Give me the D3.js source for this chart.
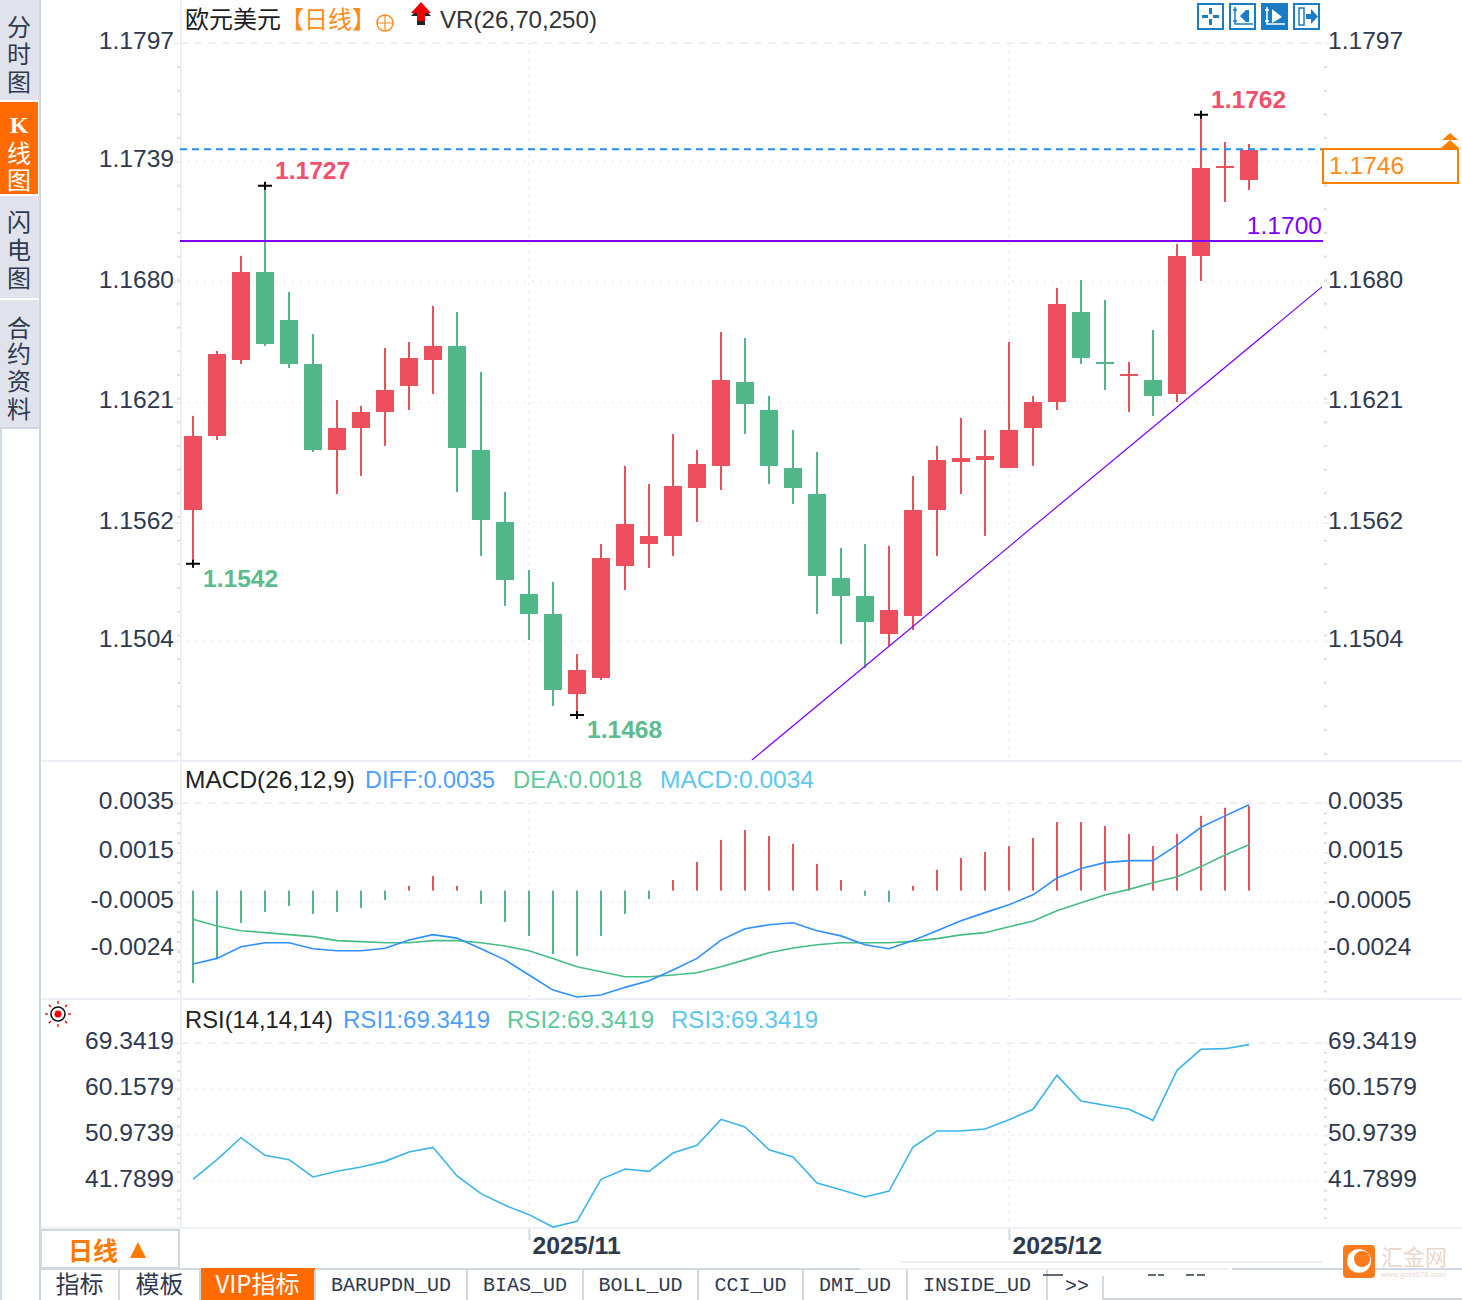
<!DOCTYPE html>
<html>
<head>
<meta charset="utf-8">
<script src="https://cdn.jsdelivr.net/npm/d3@7"></script>
<style>
  html, body { margin: 0; padding: 0; background: #fff; }
  text { font-family: "Liberation Sans", Arial, "Noto Sans CJK SC", sans-serif; }
  .cjk { font-family: "Noto Sans CJK SC", sans-serif; }
  .mono { font-family: "Liberation Mono", "DejaVu Sans Mono", monospace; }
  .domain { display: none; }
</style>
</head>
<body>
<svg id="chart" width="1462" height="1300" viewBox="0 0 1462 1300"></svg>
<script>
// Candle data, one entry per trading day
const candleOpen = [1.15682,1.16045,1.16417,1.16848,1.16613,1.16397,1.15976,1.16084,1.16162,1.16290,1.16417,1.16486,1.15976,1.15623,1.15270,1.15172,1.14780,1.14859,1.15408,1.15515,1.15555,1.15790,1.15898,1.16309,1.16172,1.15888,1.15760,1.15349,1.15261,1.15074,1.15163,1.15682,1.15917,1.15927,1.15888,1.16084,1.16211,1.16652,1.16407,1.16339,1.16319,1.16250,1.16927,1.17358,1.17299];
const candleClose = [1.16045,1.16446,1.16848,1.16495,1.16397,1.15976,1.16084,1.16162,1.16270,1.16427,1.16486,1.15986,1.15633,1.15339,1.15172,1.14800,1.14898,1.15447,1.15613,1.15555,1.15800,1.15907,1.16319,1.16201,1.15898,1.15790,1.15359,1.15261,1.15133,1.15192,1.15682,1.15927,1.15937,1.15947,1.16074,1.16211,1.16691,1.16427,1.16397,1.16348,1.16241,1.16927,1.17358,1.17368,1.17446];
const candleHigh = [1.16143,1.16461,1.16927,1.17270,1.16750,1.16544,1.16221,1.16192,1.16476,1.16505,1.16682,1.16652,1.16358,1.15770,1.15388,1.15329,1.14976,1.15515,1.15898,1.15809,1.16054,1.15976,1.16554,1.16525,1.16241,1.16074,1.15966,1.15496,1.15515,1.15506,1.15849,1.15996,1.16133,1.16074,1.16505,1.16241,1.16770,1.16809,1.16711,1.16407,1.16564,1.16985,1.17618,1.17485,1.17475];
const candleLow = [1.15418,1.16025,1.16397,1.16486,1.16378,1.15966,1.15760,1.15849,1.15996,1.16172,1.16250,1.15770,1.15457,1.15212,1.15045,1.14722,1.14678,1.14849,1.15290,1.15398,1.15457,1.15623,1.15780,1.16054,1.15809,1.15711,1.15172,1.15025,1.14908,1.15016,1.15094,1.15457,1.15760,1.15555,1.15888,1.15898,1.16172,1.16397,1.16270,1.16162,1.16143,1.16211,1.16804,1.17191,1.17250];

// MACD pane
const macdHist = [-0.00373,-0.00275,-0.00131,-0.00086,-0.00062,-0.00094,-0.00086,-0.00070,-0.00038,0.00019,0.00059,0.00019,-0.00054,-0.00127,-0.00183,-0.00256,-0.00264,-0.00183,-0.00094,-0.00034,0.00043,0.00116,0.00205,0.00245,0.00221,0.00189,0.00108,0.00043,-0.00021,-0.00046,0.00019,0.00084,0.00132,0.00156,0.00180,0.00213,0.00277,0.00277,0.00261,0.00229,0.00180,0.00229,0.00302,0.00335,0.00342];
const macdDiff = [-0.00301,-0.00278,-0.00231,-0.00215,-0.00215,-0.00239,-0.00247,-0.00247,-0.00237,-0.00204,-0.00182,-0.00196,-0.00239,-0.00284,-0.00345,-0.00406,-0.00434,-0.00426,-0.00395,-0.00368,-0.00325,-0.00278,-0.00204,-0.00158,-0.00142,-0.00134,-0.00166,-0.00187,-0.00223,-0.00239,-0.00206,-0.00166,-0.00126,-0.00093,-0.00061,-0.00021,0.00047,0.00085,0.00109,0.00117,0.00117,0.00180,0.00252,0.00298,0.00343];
const macdDea = [-0.00120,-0.00147,-0.00166,-0.00174,-0.00182,-0.00190,-0.00206,-0.00210,-0.00215,-0.00215,-0.00206,-0.00206,-0.00215,-0.00228,-0.00247,-0.00278,-0.00312,-0.00332,-0.00352,-0.00352,-0.00345,-0.00336,-0.00312,-0.00284,-0.00255,-0.00236,-0.00223,-0.00215,-0.00215,-0.00215,-0.00209,-0.00198,-0.00183,-0.00174,-0.00150,-0.00127,-0.00085,-0.00053,-0.00022,0.00001,0.00028,0.00052,0.00093,0.00140,0.00181];

// RSI pane
const rsiValues = [42.12,46.05,50.44,46.91,46.05,42.59,43.72,44.58,45.71,47.58,48.51,42.79,39.26,36.93,35.07,32.60,33.74,42.12,44.18,43.72,47.38,48.91,54.10,52.57,48.04,46.58,41.39,40.06,38.59,39.79,48.58,51.77,51.77,52.17,54.03,56.10,62.88,57.76,56.90,56.10,53.90,63.88,68.08,68.21,69.01];

// Tick labels and annotations
const priceTicks = [1.1797,1.1739,1.1680,1.1621,1.1562,1.1504];
const macdTicks = [0.0035,0.0015,-0.0005,-0.0024];
const rsiTicks = [69.3419,60.1579,50.9739,41.7899];
const monthIndex = [14,34];
const monthLabels = ["2025/11","2025/12"];
const extremeIndex = [3,42,0,16];
const extremeKind = ["high","high","low","low"];
const lastPrice = 1.1745;
const supportLevel = 1.1700;
const trendIndex = [23.29,47.04];
const trendPrice = [1.14457,1.16775];

const sideTabs = ["分时图","K线图","闪电图","合约资料"];
const bottomTabs = ["指标","模板","VIP指标","BARUPDN_UD","BIAS_UD","BOLL_UD","CCI_UD","DMI_UD","INSIDE_UD"];

const red = "#ee4f5f", green = "#52b788", gridColor = "#edf1f5", axisText = "#2f3a4f";
const blue = "#4d9fff", blueLine = "#2e8fff", mint = "#5ec99a", mintLine = "#45bd84", sky = "#5cc8f0", skyLine = "#3bb4ea";
const orange = "#ff6b00", orangeLight = "#ff8c1a", purple = "#8000ff";
const numSize = "24.6px";

const left = 180, right = 1323;
const svg = d3.select("#chart");

// Scales share one x, each pane has its own y
const x = d3.scaleLinear().domain([0, 44]).range([193, 1249]);
const yPrice = d3.scaleLinear().domain([1.1797, 1.1504]).range([43, 641]);
const yMacd = d3.scaleLinear().domain([0.0035, -0.0024]).range([803, 949]);
const yRsi = d3.scaleLinear().domain([69.3419, 41.7899]).range([1043, 1181]);
// Plain hyphen for negatives, the reference does not use the unicode minus
const fmt4 = v => d3.format(".4f")(v).replace("\u2212", "-");
const panes = [
    { y: yPrice, ticks: priceTicks, top: 43, bottom: 760, hideRight: [1.1739] },
    { y: yMacd, ticks: macdTicks, top: 803, bottom: 998, hideRight: [] },
    { y: yRsi, ticks: rsiTicks, top: 1043, bottom: 1227, hideRight: [] }
];

// Clip for the price pane so the trend line stops at its border
svg.append("clipPath").attr("id", "priceClip").append("rect")
    .attr("x", left).attr("y", 0).attr("width", right - left).attr("height", 760);

// Grid and axes
panes.forEach(p => {
    const grid = svg.append("g");
    p.ticks.forEach((t, i) => {
        grid.append("line")
            .attr("x1", left).attr("x2", right)
            .attr("y1", p.y(t)).attr("y2", p.y(t))
            .attr("stroke", gridColor).attr("stroke-width", 2)
            .attr("stroke-dasharray", i === 0 ? "8 6" : "2 6");
    });
    monthIndex.forEach(m => {
        grid.append("line")
            .attr("x1", x(m)).attr("x2", x(m))
            .attr("y1", p.top).attr("y2", p.bottom)
            .attr("stroke", gridColor).attr("stroke-width", 2)
            .attr("stroke-dasharray", "2 6");
    });

    const step = (p.ticks[0] - p.ticks[1]) / 5;
    const minor = d3.range(1, 60).map(k => p.ticks[0] - k * step)
        .filter(v => p.y(v) < p.bottom);

    [[d3.axisLeft, left], [d3.axisRight, right + 1]].forEach(([axisFn, pos]) => {
        const isLeft = axisFn === d3.axisLeft;
        svg.append("g").attr("transform", `translate(${pos},0)`)
            .call(axisFn(p.y).tickValues(minor).tickSize(3).tickFormat(""))
            .selectAll("line").attr("stroke", "#d8dfe6").attr("stroke-width", 2);
        // The current price box hides one label on the right side
        const shown = isLeft ? p.ticks : p.ticks.filter(t => !p.hideRight.includes(t));
        const g = svg.append("g").attr("transform", `translate(${pos},0)`)
            .call(axisFn(p.y).tickValues(shown).tickSize(6).tickFormat(fmt4));
        g.selectAll("line").attr("stroke", gridColor).attr("stroke-width", 2);
        g.selectAll("text")
            .attr("x", isLeft ? -6 : 4)
            .attr("dy", "0.22em")
            .attr("fill", axisText)
            .style("font-size", numSize);
    });
});

// Pane frames
svg.append("g").selectAll("line").data([761, 999, 1228]).join("line")
    .attr("x1", 40).attr("x2", 1462).attr("y1", d => d).attr("y2", d => d)
    .attr("stroke", gridColor).attr("stroke-width", 2);
svg.append("line").attr("x1", 181).attr("x2", 181).attr("y1", 0).attr("y2", 1228)
    .attr("stroke", gridColor).attr("stroke-width", 2);

// Candles
const candles = svg.append("g").selectAll("g").data(candleOpen).join("g");
candles.append("rect")
    .attr("x", (d, i) => x(i) - 1).attr("width", 2)
    .attr("y", (d, i) => yPrice(candleHigh[i]))
    .attr("height", (d, i) => yPrice(candleLow[i]) - yPrice(candleHigh[i]))
    .attr("fill", (d, i) => candleClose[i] >= d ? red : green);
candles.append("rect")
    .attr("x", (d, i) => x(i) - 9).attr("width", 18)
    .attr("y", (d, i) => yPrice(Math.max(d, candleClose[i])))
    .attr("height", (d, i) => Math.max(2, Math.abs(yPrice(d) - yPrice(candleClose[i]))))
    .attr("fill", (d, i) => candleClose[i] >= d ? red : green)
    .attr("shape-rendering", "crispEdges");

// Last price, support level and trend line
svg.append("line")
    .attr("x1", left).attr("x2", right)
    .attr("y1", yPrice(lastPrice)).attr("y2", yPrice(lastPrice))
    .attr("stroke", "#1e8fff").attr("stroke-width", 2).attr("stroke-dasharray", "7 5");
svg.append("line")
    .attr("x1", left).attr("x2", right)
    .attr("y1", yPrice(supportLevel)).attr("y2", yPrice(supportLevel))
    .attr("stroke", purple).attr("stroke-width", 2);
svg.append("text").attr("x", 1322).attr("y", yPrice(supportLevel) - 7)
    .attr("text-anchor", "end").attr("fill", purple).style("font-size", numSize)
    .text(fmt4(supportLevel));
svg.append("line")
    .attr("clip-path", "url(#priceClip)")
    .attr("x1", x(trendIndex[0])).attr("y1", yPrice(trendPrice[0]))
    .attr("x2", x(trendIndex[1])).attr("y2", yPrice(trendPrice[1]))
    .attr("stroke", purple).attr("stroke-width", 1.2);

// High and low markers
extremeIndex.forEach((i, k) => {
    const isHigh = extremeKind[k] === "high";
    const value = isHigh ? candleHigh[i] : candleLow[i];
    const cx = x(i), cy = yPrice(value);
    svg.append("path")
        .attr("d", `M${cx - 7},${cy}H${cx + 7}M${cx},${cy - 4}V${cy + 4}`)
        .attr("stroke", "#000").attr("stroke-width", 2).attr("fill", "none");
    svg.append("text")
        .attr("x", cx + 10)
        .attr("y", isHigh ? cy - 7 : cy + 23)
        .attr("fill", isHigh ? "#f0506e" : "#5dbb8f")
        .attr("font-weight", "bold")
        .style("font-size", numSize)
        .text(fmt4(value));
});

// Current price box on the right axis
svg.append("rect").attr("x", 1323).attr("y", 149).attr("width", 135).attr("height", 34)
    .attr("fill", "#fff").attr("stroke", "#ff8000").attr("stroke-width", 2);
svg.append("text").attr("x", 1329).attr("y", 174).attr("fill", "#ff8c1a").style("font-size", numSize)
    .text("1.1746");
svg.append("path").attr("d", "M1450,133l8,7h-16zM1450,140l9,8h-18z").attr("fill", "#ff8000");

// MACD histogram and lines, bars sit one pixel under the computed zero
svg.append("g").attr("transform", "translate(0,1)").selectAll("rect").data(macdHist).join("rect")
    .attr("x", (d, i) => x(i) - 1).attr("width", 2)
    .attr("y", d => Math.min(yMacd(d), yMacd(0)))
    .attr("height", d => Math.abs(yMacd(d) - yMacd(0)))
    .attr("fill", d => d >= 0 ? red : green);
const macdLine = d3.line().x((d, i) => x(i)).y(d => yMacd(d));
svg.append("path").attr("d", macdLine(macdDea)).attr("fill", "none").attr("stroke", mintLine).attr("stroke-width", 1.6);
svg.append("path").attr("d", macdLine(macdDiff)).attr("fill", "none").attr("stroke", blueLine).attr("stroke-width", 1.6);

// RSI line
svg.append("path")
    .attr("d", d3.line().x((d, i) => x(i)).y(d => yRsi(d))(rsiValues))
    .attr("fill", "none").attr("stroke", skyLine).attr("stroke-width", 1.6);

// Pane headers, widths
function header(y, items) {
    items.forEach(([px, label, color, width]) => {
        svg.append("text").attr("x", px).attr("y", y).attr("fill", color)
            .attr("textLength", width).attr("lengthAdjust", "spacingAndGlyphs")
            .style("font-size", "24px").text(label);
    });
}
header(788, [[185, "MACD(26,12,9)", "#222", 170], [365, "DIFF:0.0035", blue, 130], [513, "DEA:0.0018", mint, 129], [660, "MACD:0.0034", sky, 154]]);
header(1028, [[185, "RSI(14,14,14)", "#222", 148], [343, "RSI1:69.3419", blue, 147], [507, "RSI2:69.3419", mint, 147], [671, "RSI3:69.3419", sky, 147]]);

svg.append("text").attr("class", "cjk").attr("x", 185).attr("y", 28).attr("fill", "#1b1b1b")
    .style("font-size", "24px").text("欧元美元");
svg.append("text").attr("class", "cjk").attr("x", 280).attr("y", 28).attr("fill", orangeLight)
    .style("font-size", "24px").text("【日线】");
svg.append("text").attr("x", 440).attr("y", 28).attr("fill", "#333")
    .attr("textLength", 157).attr("lengthAdjust", "spacingAndGlyphs")
    .style("font-size", "24px").text("VR(26,70,250)");

// Small circled cross next to the title
svg.append("circle").attr("cx", 385).attr("cy", 23).attr("r", 8).attr("fill", "none").attr("stroke", orangeLight).attr("stroke-width", 1.5);
svg.append("path").attr("d", "M377,23H393M385,15V31").attr("stroke", orangeLight).attr("stroke-width", 1.2);

// Red up arrow with dark shadow
svg.append("path").attr("d", "M411,14l10,-11l10,11h-6v9h-8v-9z").attr("fill", "#222").attr("transform", "translate(0,2)");
svg.append("path").attr("d", "M411,13l10,-11l10,11h-6v8h-8v-8z").attr("fill", "#f00000");

// Toolbar icons at the top right
const iconBlue = "#1a7cc4";
[1197, 1229, 1261, 1293].forEach((ix, k) => {
    const g = svg.append("g").attr("transform", `translate(${ix},3)`);
    const filled = k === 2;
    g.append("rect").attr("x", 1).attr("y", 1).attr("width", 25).attr("height", 25)
        .attr("fill", filled ? iconBlue : "#fff").attr("stroke", iconBlue).attr("stroke-width", 2);
    const ink = filled ? "#fff" : iconBlue;
    if (k === 0) {
        g.append("path").attr("d", "M13.5,5v6M13.5,16v6M5,13.5h6M16,13.5h6").attr("stroke", ink).attr("stroke-width", 3);
    } else if (k === 1 || k === 2) {
        g.append("path").attr("d", "M6,4V21H24M4,7h4M4,18h4").attr("stroke", ink).attr("stroke-width", 1.5).attr("fill", "none");
        g.append("path").attr("d", k === 1 ? "M11,13l6,-6v12zM17,7h3v12h-3z" : "M11,6l10,8l-10,6z").attr("fill", ink);
    } else {
        g.append("path").attr("d", "M6,5h5v17h-5z").attr("stroke", ink).attr("stroke-width", 1.5).attr("fill", "none");
        g.append("path").attr("d", "M13,11h5v-5l7,7.5l-7,7.5v-5h-5z").attr("fill", ink);
    }
});

// Left sidebar, each tab is one text stacked with tspans
const sideBlocks = [[0, 100], [102, 92], [196, 102], [300, 127]];
const sideChars = [[27, 54, 82], [124, 153, 180], [222, 250, 278], [328, 354, 381, 409]];
svg.append("rect").attr("x", 39).attr("y", 0).attr("width", 2).attr("height", 1300).attr("fill", "#cfd8e0");
svg.append("rect").attr("x", 0).attr("y", 427).attr("width", 2).attr("height", 873).attr("fill", "#cfd8e0");
svg.append("rect").attr("x", 0).attr("y", 427).attr("width", 39).attr("height", 2).attr("fill", "#cfd8e0");
sideTabs.forEach((tab, k) => {
    const active = k === 1;
    svg.append("rect").attr("x", 0).attr("y", sideBlocks[k][0])
        .attr("width", active ? 38 : 39).attr("height", sideBlocks[k][1])
        .attr("fill", active ? orange : "#e1e3ec");
    const label = svg.append("text").attr("class", "cjk")
        .attr("text-anchor", "middle")
        .attr("fill", active ? "#fff" : axisText)
        .style("font-size", "24px");
    Array.from(tab).forEach((ch, j) => {
        label.append("tspan")
            .attr("x", 19).attr("y", sideChars[k][j] + 8.5)
            .style("font-family", ch === "K" ? "'Liberation Serif', serif" : null)
            .style("font-weight", ch === "K" ? "bold" : null)
            .text(ch);
    });
});

// Sun icon by the RSI pane
svg.append("circle").attr("cx", 58).attr("cy", 1014).attr("r", 7).attr("fill", "none").attr("stroke", "#111").attr("stroke-width", 1.5);
svg.append("circle").attr("cx", 58).attr("cy", 1014).attr("r", 3.5).attr("fill", "#f00000");
svg.append("g").selectAll("line").data(d3.range(8)).join("line")
    .attr("x1", d => 58 + 10 * Math.cos(d * Math.PI / 4)).attr("y1", d => 1014 + 10 * Math.sin(d * Math.PI / 4))
    .attr("x2", d => 58 + 13 * Math.cos(d * Math.PI / 4)).attr("y2", d => 1014 + 13 * Math.sin(d * Math.PI / 4))
    .attr("stroke", "#f00000").attr("stroke-width", 1.3);

// Month axis
const monthAxis = svg.append("g").attr("transform", "translate(0,1229)")
    .call(d3.axisBottom(x).tickValues(monthIndex).tickSize(11).tickFormat((d, i) => monthLabels[i]));
monthAxis.selectAll("line").attr("stroke", "#cfd8e0").attr("stroke-width", 2);
monthAxis.selectAll("text")
    .attr("text-anchor", "start").attr("x", 3).attr("y", 25).attr("dy", 0)
    .attr("fill", axisText).attr("font-weight", "bold").style("font-size", "24.8px");

// Period selector and bottom tabs
svg.append("rect").attr("x", 41).attr("y", 1230).attr("width", 138).attr("height", 38)
    .attr("fill", "#fff").attr("stroke", "#cfd8e0").attr("stroke-width", 2);
svg.append("text").attr("class", "cjk").attr("x", 68).attr("y", 1260)
    .attr("fill", "#ff7a00").attr("font-weight", "bold").style("font-size", "25px").text("日线");
svg.append("path").attr("d", "M138,1242l8,16h-16z").attr("fill", "#ff7a00");

const tabEdges = [40, 119, 200, 315, 467, 583, 698, 803, 907, 1047];
// Top edge of the tab bar, it fades out behind the date strip
svg.append("rect").attr("x", 40).attr("y", 1268).attr("width", 820).attr("height", 2).attr("fill", "#cfd8e0");
svg.append("rect").attr("x", 860).attr("y", 1268).attr("width", 368).attr("height", 2).attr("fill", gridColor);
svg.append("rect").attr("x", 1232).attr("y", 1268).attr("width", 230).attr("height", 2).attr("fill", "#cfd8e0");
bottomTabs.forEach((tab, k) => {
    const x0 = tabEdges[k], x1 = tabEdges[k + 1];
    const active = tab === "VIP指标";
    if (active) svg.append("rect").attr("x", x0 + 1).attr("y", 1268).attr("width", x1 - x0 - 1).attr("height", 32).attr("fill", orange);
    svg.append("rect").attr("x", x1 - 1).attr("y", 1270).attr("width", 2).attr("height", 30).attr("fill", "#cfd8e0");
    const plain = k >= 3;
    svg.append("text").attr("class", plain ? "mono" : "cjk")
        .attr("x", (x0 + x1) / 2).attr("y", plain ? 1291 : 1293)
        .attr("text-anchor", "middle")
        .attr("fill", active ? "#fff" : axisText)
        .style("font-size", plain ? "20px" : "24px").text(tab);
});
svg.append("text").attr("class", "mono").attr("x", 1065).attr("y", 1292).attr("fill", axisText).style("font-size", "20px").text(">>");
svg.append("path").attr("d", "M1103,1276V1299H1462").attr("fill", "none").attr("stroke", "#cfd8e0").attr("stroke-width", 2);
svg.append("line").attr("x1", 900).attr("x2", 1322).attr("y1", 1262).attr("y2", 1262).attr("stroke", gridColor).attr("stroke-width", 2);
// Leftover clipped glyph tops along the tab bar
svg.append("path").attr("d", "M1043,1275h8M1045,1275h18M1148,1275h8M1158,1275h6M1186,1275h8M1197,1275h8")
    .attr("stroke", axisText).attr("stroke-width", 1.5).attr("fill", "none");

// Watermark
svg.append("rect").attr("x", 1343).attr("y", 1245).attr("width", 32).attr("height", 33).attr("rx", 4).attr("fill", "#ff7a1a");
svg.append("circle").attr("cx", 1359).attr("cy", 1261).attr("r", 12).attr("fill", "#fff");
svg.append("circle").attr("cx", 1362).attr("cy", 1259).attr("r", 8).attr("fill", "#ff7a1a");
svg.append("text").attr("class", "cjk").attr("x", 1381).attr("y", 1265).attr("fill", "#e9d8ca")
    .style("font-size", "22px").text("汇金网");
svg.append("text").attr("x", 1381).attr("y", 1277).attr("fill", "#e9d8ca")
    .style("font-size", "8px").text("www.gold678.com");
</script>
</body>
</html>
